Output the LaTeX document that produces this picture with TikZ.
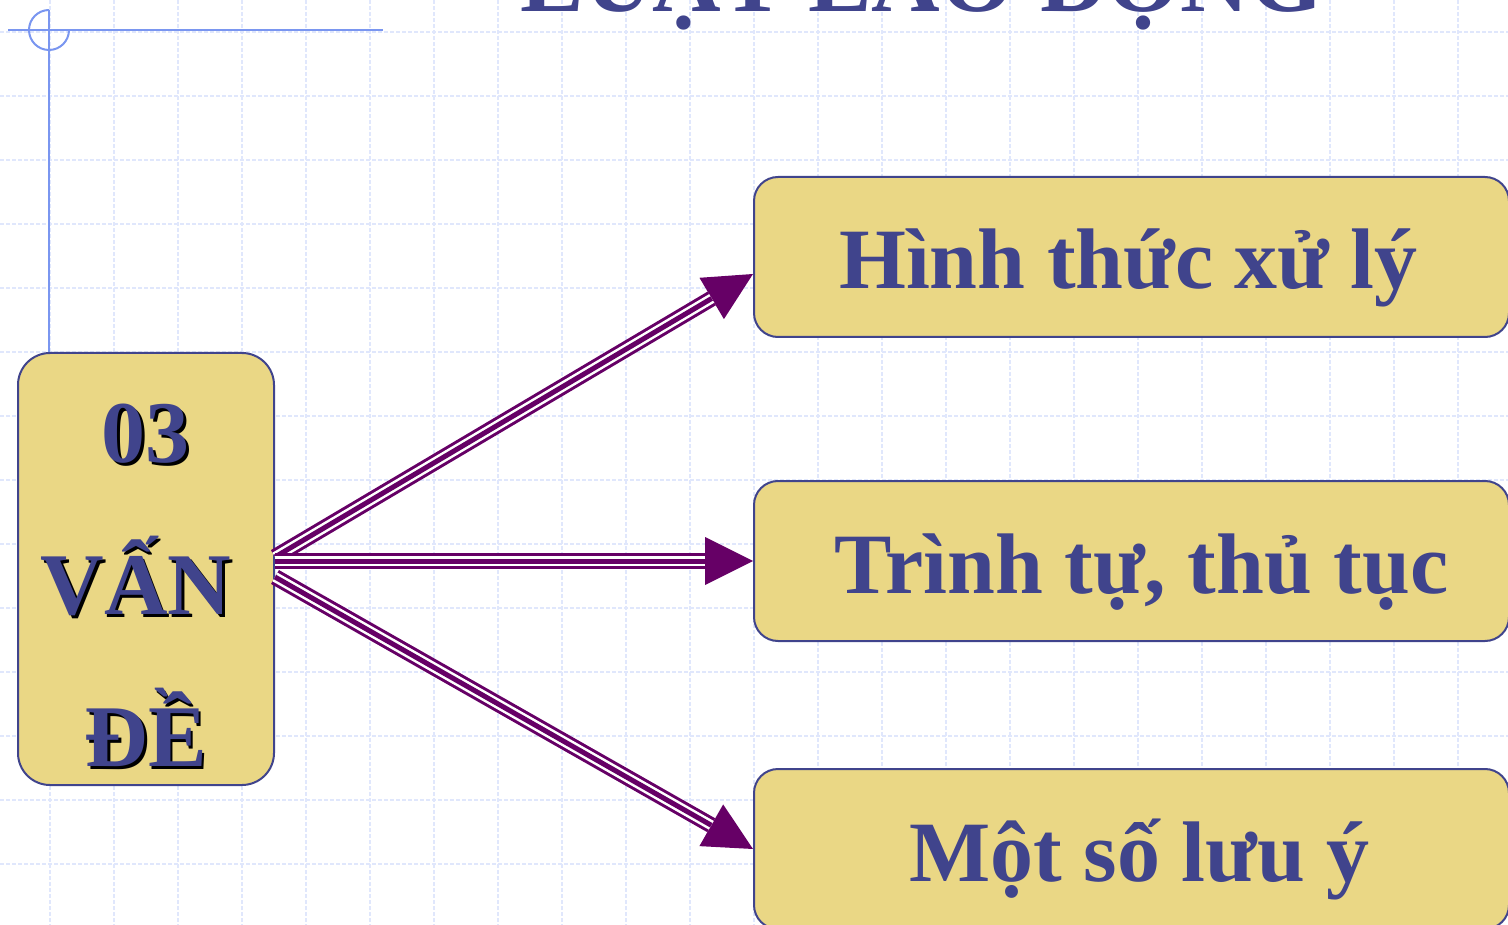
\documentclass[tikz,border=0pt]{standalone}
\usepackage{fontspec}
\setmainfont{Liberation Serif}
\usetikzlibrary{arrows.meta,calc}
\definecolor{txtblue}{RGB}{64,68,140}
\definecolor{boxfill}{RGB}{234,215,133}
\definecolor{linkpurple}{RGB}{102,0,102}
\definecolor{gridblue}{RGB}{224,231,252}
\definecolor{rulerblue}{RGB}{122,150,240}
\newcommand\shadowed[1]{\makebox[0pt][l]{\hspace*{2.5pt}\raisebox{-2.5pt}{\color{black}#1}}#1}
\tikzset{
	gridline/.style={draw=gridblue, line width=1.2pt, dash pattern=on 4pt off 2pt},
	ruler/.style={draw=rulerblue, line width=2pt},
	mainbox/.style={draw=txtblue, fill=boxfill, line width=2pt, rounded corners=32pt,
		minimum width=256pt, minimum height=432pt, align=center, text=txtblue,
		font=\bfseries\fontsize{88}{152}\selectfont},
	itembox/.style={draw=txtblue, fill=boxfill, line width=2pt, rounded corners=24pt,
		minimum width=755pt, minimum height=160pt, text height=64pt, text depth=0pt,
		text=txtblue, font=\bfseries\fontsize{86}{90}\selectfont},
	triarrow/.style={draw=linkpurple, line width=16pt,
		-{Triangle[length=48pt,width=48pt,line width=0pt]},
		postaction={draw=white, line width=10pt, shorten >=48pt, -},
		postaction={draw=linkpurple, line width=5pt, shorten >=48pt, -}}
}
\begin{document}
\begin{tikzpicture}[x=1pt,y=-1pt]
		\useasboundingbox (0,0) rectangle (1508,925);
		\clip (0,0) rectangle (1508,925);
		% background grid
		\foreach \gx in {50,114,...,1522}
			\draw[gridline] (\gx,0) -- (\gx,925);
		\foreach \gy in {32,96,...,928}
			\draw[gridline] (0,\gy) -- (1508,\gy);
		% corner mark
		\draw[ruler] (8,30) -- (383,30);
		\draw[ruler] (49,10) -- (49,352);
		\draw[ruler] (49,10) arc (90:360:20pt);
		\node[anchor=base, text=txtblue, font=\bfseries\fontsize{95}{95}\selectfont] (ttl) at (922,12) {LUẬT LAO ĐỘNG};
		\node[mainbox] (vd) at (146,569) {\rule{0pt}{94pt}\shadowed{03}\\\shadowed{VẤN}\kern20pt\\\shadowed{ĐỀ}};
		\node[itembox] (h1) at (1131.5,257) {Hình thức xử lý\kern6pt};
		\node[itembox] (h2) at (1131.5,561) {\hspace*{20pt}Trình tự, thủ tục};
		\node[itembox] (h3) at (1131.5,849) {\hspace*{16pt}Một số lưu ý};
		\draw[triarrow] ($(vd.east)+(0,-12)$) -- ($(h1.west)+(0,17)$);
		\draw[triarrow] ($(vd.east)+(0,-8)$) -- (h2.west);
		\draw[triarrow] ($(vd.east)+(0,8)$) -- (h3.west);
	\end{tikzpicture}
\end{document}
